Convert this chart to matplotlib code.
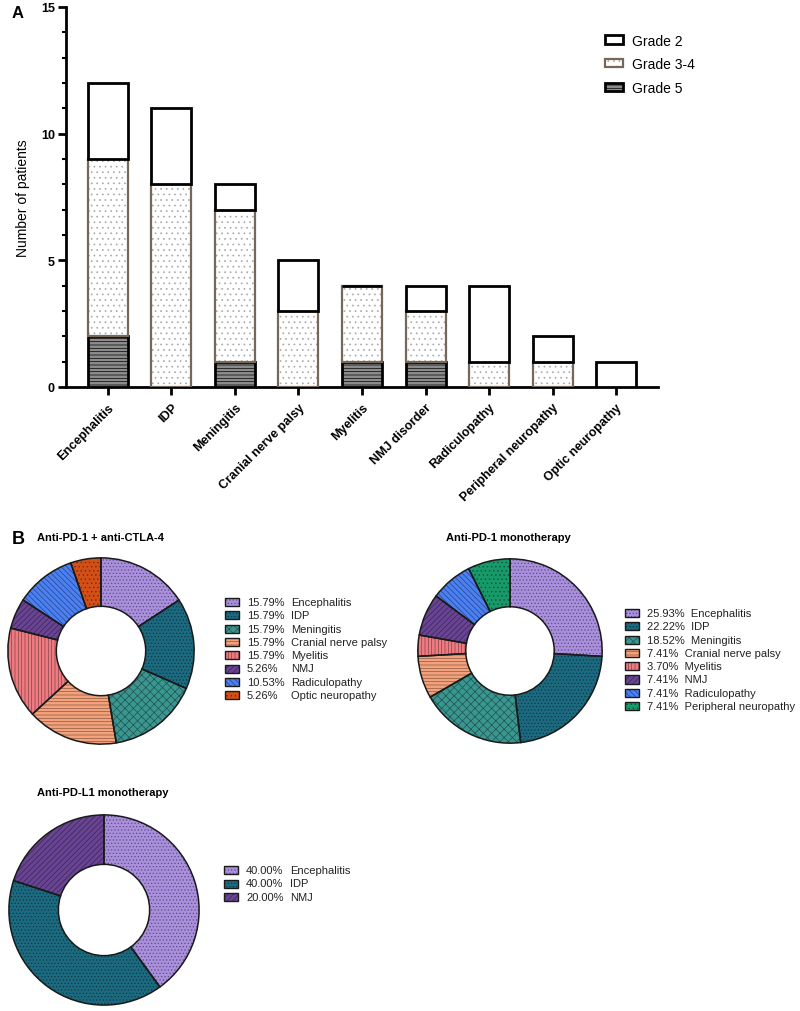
import numpy as np
import matplotlib
matplotlib.use('Agg')
import matplotlib.pyplot as plt
from matplotlib.patches import Rectangle
from matplotlib.legend_handler import HandlerTuple
from matplotlib import colors as mcolors

plt.rcParams['font.family'] = ['Liberation Sans', 'DejaVu Sans']
plt.rcParams['hatch.linewidth'] = 0.5

# ---- panel A data
categories = ['Encephalitis', 'IDP', 'Meningitis', 'Cranial nerve palsy', 'Myelitis',
              'NMJ disorder', 'Radiculopathy', 'Peripheral neuropathy', 'Optic neuropathy']
grade5 = [2, 0, 1, 0, 1, 1, 0, 0, 0]
grade34 = [7, 8, 6, 3, 3, 2, 1, 1, 0]
grade2 = [3, 3, 1, 2, 0, 1, 3, 1, 1]

# ---- panel B data
combo_labels = ['Encephalitis', 'IDP', 'Meningitis', 'Cranial nerve palsy', 'Myelitis',
                'NMJ', 'Radiculopathy', 'Optic neuropathy']
combo_pct = [15.79, 15.79, 15.79, 15.79, 15.79, 5.26, 10.53, 5.26]

pd1_labels = ['Encephalitis', 'IDP', 'Meningitis', 'Cranial nerve palsy', 'Myelitis',
              'NMJ', 'Radiculopathy', 'Peripheral neuropathy']
pd1_pct = [25.93, 22.22, 18.52, 7.41, 3.70, 7.41, 7.41, 7.41]

pdl1_labels = ['Encephalitis', 'IDP', 'NMJ']
pdl1_pct = [40.00, 40.00, 20.00]

style = {
    'Encephalitis': ('#a98fdd', '.....'),
    'IDP': ('#1b6a80', '.....'),
    'Meningitis': ('#3a9690', 'xxxx'),
    'Cranial nerve palsy': ('#f4a27c', '-----'),
    'Myelitis': ('#ef7b82', '|||||'),
    'NMJ': ('#6a4494', '//////'),
    'Radiculopathy': ('#4b80f2', '\\\\\\\\\\\\'),
    'Optic neuropathy': ('#d24f18', '....'),
    'Peripheral neuropathy': ('#17996a', '....'),
}

W, H = 800, 1012
fig = plt.figure(figsize=(8, 10.12), dpi=100)


def fx(px):
    return px / W


def fy(py):
    return 1 - py / H


def darker(c, f=0.5):
    r, g, b = mcolors.to_rgb(c)
    return (r * f, g * f, b * f)


# ================= panel A
ax = fig.add_axes([fx(66), fy(388), fx(658) - fx(66), fy(8) - fy(388)])
x = np.arange(len(categories))
bw = 0.63
g5 = ax.bar(x, grade5, bw, color='#8c8c8c', edgecolor='black', hatch='-----', linewidth=2, zorder=3)
g34_fill = ax.bar(x, grade34, bw, bottom=grade5, color='white', edgecolor='#a8a8a8',
                  hatch='...', linewidth=0, zorder=2)
bottom2 = np.array(grade5) + np.array(grade34)
g34_line = ax.bar(x, grade34, bw, bottom=grade5, fill=False, edgecolor='#75685a',
                  linewidth=1.6, zorder=3)
g2 = ax.bar(x, grade2, bw, bottom=bottom2, color='white', edgecolor='black', linewidth=2, zorder=3)

ax.set_xlim(-0.66, 8.66)
ax.set_ylim(0, 15)
ax.set_yticks([0, 5, 10, 15])
ax.set_yticks(np.arange(0, 16, 1), minor=True)
ax.set_xticks(x)
ax.set_xticklabels(categories, rotation=45, ha='right', rotation_mode='anchor',
                   fontsize=9, fontweight='bold')
for lab in ax.get_yticklabels():
    lab.set_fontweight('bold')
    lab.set_fontsize(9)
ax.tick_params(axis='both', which='major', length=6, width=2, direction='out')
ax.tick_params(axis='y', which='minor', length=3, width=1.5)
ax.tick_params(axis='x', pad=4)
ax.tick_params(axis='y', pad=2)
for s in ['top', 'right']:
    ax.spines[s].set_visible(False)
for s in ['left', 'bottom']:
    ax.spines[s].set_linewidth(2)
ax.set_ylabel('Number of patients', fontsize=10, labelpad=8)

ax.legend([g2, (g34_fill, g34_line), g5], ['Grade 2', 'Grade 3-4', 'Grade 5'],
          handler_map={tuple: HandlerTuple(ndivide=1)},
          loc='upper left', bbox_to_anchor=(fx(592), fy(22)), bbox_transform=fig.transFigure,
          frameon=False, fontsize=10, handlelength=1.3, handleheight=0.55,
          labelspacing=0.7, handletextpad=0.7)

fig.text(fx(12), fy(13), 'A', fontsize=12, fontweight='bold', va='center', ha='left')
fig.text(fx(12), fy(539), 'B', fontsize=13, fontweight='bold', va='center', ha='left')


# ================= panel B
def donut(cx, cy, r, labels, pcts, title, title_xy, title_ha, leg_x, leg_y0, leg_dy, name_dx=None):
    pax = fig.add_axes([fx(cx - r), fy(cy + r), fx(2 * r), fy(cy - r) - fy(cy + r)])
    cols = [style[l][0] for l in labels]
    hatches = [style[l][1] for l in labels]
    wedges, _ = pax.pie(pcts, colors=cols, hatch=hatches, startangle=90, counterclock=False,
                        radius=1, wedgeprops=dict(width=0.52, linewidth=0))
    for w, c in zip(wedges, cols):
        w.set_edgecolor(darker(c, 0.55))
        w.set_linewidth(0)
    pax.pie(pcts, startangle=90, counterclock=False, radius=1,
            wedgeprops=dict(width=0.52, fill=False, edgecolor='#1a1a1a', linewidth=1.1))
    pax.set_xlim(-1.02, 1.02)
    pax.set_ylim(-1.02, 1.02)
    pax.set_aspect('equal')
    pax.axis('off')
    fig.text(fx(title_xy[0]), fy(title_xy[1]), title, fontsize=8, fontweight='bold',
             ha=title_ha, va='center')
    for i, (l, p) in enumerate(zip(labels, pcts)):
        yy = leg_y0 + i * leg_dy
        c, h = style[l]
        rect = Rectangle((fx(leg_x), fy(yy + 4)), fx(14), fy(yy - 4) - fy(yy + 4),
                         transform=fig.transFigure, facecolor=c, edgecolor=darker(c, 0.55),
                         hatch=h, linewidth=0)
        fig.add_artist(rect)
        fig.add_artist(Rectangle((fx(leg_x), fy(yy + 4)), fx(14), fy(yy - 4) - fy(yy + 4),
                                 transform=fig.transFigure, fill=False,
                                 edgecolor='#1a1a1a', linewidth=1))
        if name_dx is None:
            fig.text(fx(leg_x + 22), fy(yy), f'{p:.2f}%  {l}', fontsize=8, va='center',
                     ha='left', color='#222222')
        else:
            fig.text(fx(leg_x + 22), fy(yy), f'{p:.2f}%', fontsize=8, va='center',
                     ha='left', color='#222222')
            fig.text(fx(leg_x + 22 + name_dx), fy(yy), l, fontsize=8, va='center',
                     ha='left', color='#222222')


donut(101, 652, 95, combo_labels, combo_pct, 'Anti-PD-1 + anti-CTLA-4', (37, 538), 'left',
      225, 603, 13.3, name_dx=44)
donut(510, 652, 94, pd1_labels, pd1_pct, 'Anti-PD-1 monotherapy', (508, 538), 'center',
      625, 614, 13.3)
donut(104, 911, 97, pdl1_labels, pdl1_pct, 'Anti-PD-L1 monotherapy', (103, 793), 'center',
      224, 871, 13.5, name_dx=44)

fig.savefig('out.png', dpi=100)
